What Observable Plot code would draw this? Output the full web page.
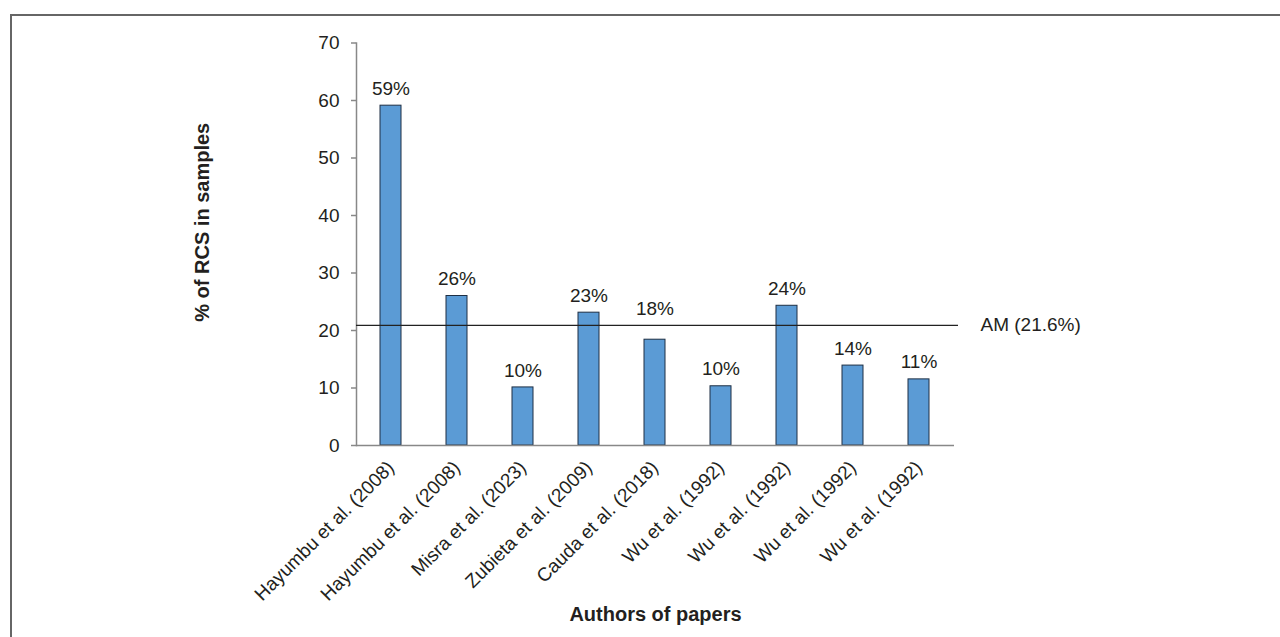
<!DOCTYPE html>
<html>
<head>
<meta charset="utf-8">
<script src="https://cdn.jsdelivr.net/npm/d3@7"></script>
<script src="https://cdn.jsdelivr.net/npm/@observablehq/plot@0.6"></script>
<style>
  html, body { margin: 0; padding: 0; background: #fff; overflow: hidden; }
  #wrap { position: relative; width: 1280px; height: 637px; }
  #border { position: absolute; left: 10px; top: 14px; width: 1300px; height: 700px;
            border-left: 2px solid #666; border-top: 2px solid #666; }
  #chart { position: absolute; left: 0; top: 0; }
</style>
</head>
<body>
<div id="wrap">
  <div id="border"></div>
  <div id="chart"></div>
</div>
<script>
const authors = [
  "Hayumbu et al. (2008)",
  "Hayumbu et al. (2008)",
  "Misra et al. (2023)",
  "Zubieta et al. (2009)",
  "Cauda et al. (2018)",
  "Wu et al. (1992)",
  "Wu et al. (1992)",
  "Wu et al. (1992)",
  "Wu et al. (1992)"
];
const values = [59.1, 26.0, 10.1, 23.1, 18.4, 10.3, 24.3, 13.9, 11.5];
const valueLabels = ["59%", "26%", "10%", "23%", "18%", "10%", "24%", "14%", "11%"];
const yTicks = [0, 10, 20, 30, 40, 50, 60, 70];
const amValue = 20.9;
const amLabel = "AM (21.6%)";
const xTitle = "Authors of papers";
const yTitle = "% of RCS in samples";

const data = authors.map((a, i) => ({i, author: a, value: values[i], label: valueLabels[i]}));

const chart = Plot.plot({
  width: 1280,
  height: 637,
  marginLeft: 356,
  marginRight: 326,
  marginTop: 42.5,
  marginBottom: 192,
  style: {fontFamily: "'Liberation Sans', Arial, Helvetica, sans-serif", fontSize: "19px", color: "#231f20", background: "transparent"},
  x: {type: "band", domain: d3.range(authors.length), paddingInner: 0.68, paddingOuter: 0.34},
  y: {domain: [0, 70]},
  marks: [
    Plot.axisY({ticks: yTicks, tickSize: 5, tickPadding: 12, stroke: "#888", strokeWidth: 1.5, label: null}),
    Plot.axisX({tickRotate: -45, tickSize: 0, tickPadding: 19, tickFormat: i => authors[i], label: null}),
    Plot.barY(data, {x: "i", y: "value", fill: "#5b9bd5", stroke: "#1e2f44", strokeWidth: 1}),
    Plot.ruleY([0], {stroke: "#888", strokeWidth: 1.5}),
    Plot.frame({anchor: "left", stroke: "#888", strokeWidth: 1.5}),
    Plot.ruleY([amValue], {stroke: "#222", strokeWidth: 1.2, insetRight: -4}),
    Plot.text(data, {filter: d => d.i !== 4, x: "i", y: "value", text: "label", dy: -17}),
    Plot.text(data, {filter: d => d.i === 4, x: "i", y: "value", text: "label", dy: -31}),
    Plot.text([amLabel], {y: () => amValue, frameAnchor: "right", textAnchor: "start", dx: 26}),
    Plot.text([xTitle], {frameAnchor: "bottom", dy: 175, fontWeight: "bold", fontSize: 20}),
    Plot.text([yTitle], {frameAnchor: "left", textAnchor: "middle", rotate: -90, dx: -154, dy: -22, fontWeight: "bold", fontSize: 20})
  ]
});
document.getElementById("chart").appendChild(chart);
</script>
</body>
</html>
